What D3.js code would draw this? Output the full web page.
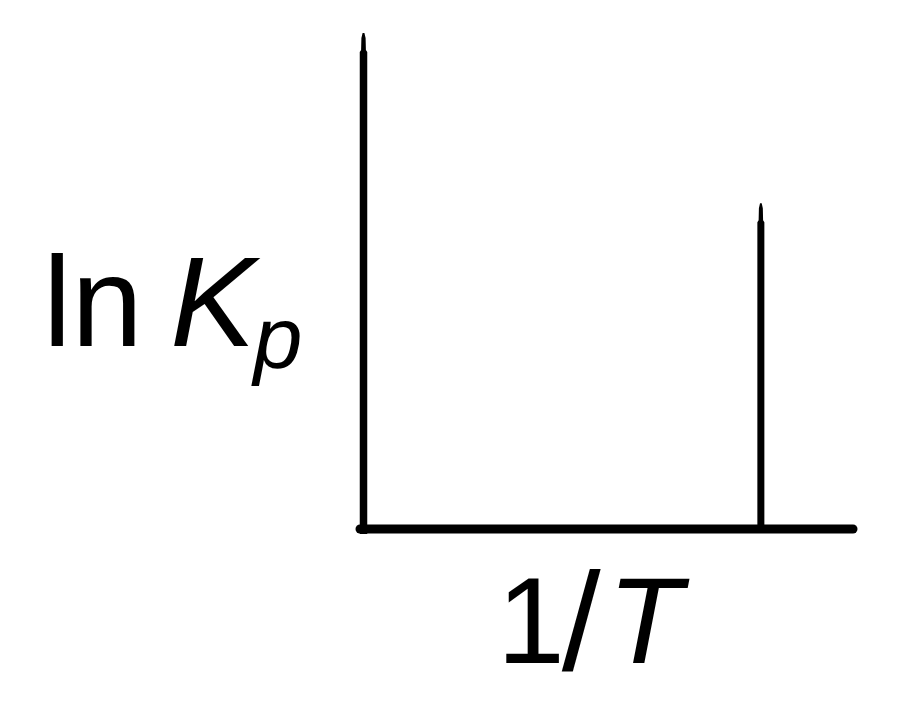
<!DOCTYPE html>
<html>
<head>
<meta charset="utf-8">
<script src="https://cdn.jsdelivr.net/npm/d3@7"></script>
<style>
  html, body { margin: 0; padding: 0; background: #fff; }
  svg { display: block; }
  text { font-family: "Liberation Sans", Arial, sans-serif; fill: #000; }
</style>
</head>
<body>
<svg id="chart" width="900" height="709"></svg>
<script>
// ---- data (in axis units, domain [0,1]) ----
const xDomain = [0, 1];
const yDomain = [0, 1];
const verticalLineX = [0.805];      // position of the vertical marker along 1/T
const verticalLineTop = [0.657];    // height reached by the marker (ln Kp)
const yLabelParts = ["ln ", "K", "p"];
const xLabelParts = ["1", "/", "T"];

const svg = d3.select("#chart");

const originX = 364, originY = 529;
const x = d3.scaleLinear().domain(xDomain).range([originX, 857]);
const y = d3.scaleLinear().domain(yDomain).range([originY, 33]);

// tapered vertical stroke
function vStroke(cx, yTop, yBottom, w) {
  const p = d3.path();
  p.moveTo(cx - w / 2, yBottom);
  p.lineTo(cx - w / 2, yTop + 19);
  p.lineTo(cx - w * 0.32, yTop + 17);
  p.lineTo(cx - w * 0.28, yTop + 5);
  p.lineTo(cx - w * 0.12, yTop);
  p.lineTo(cx + w * 0.12, yTop);
  p.lineTo(cx + w * 0.28, yTop + 5);
  p.lineTo(cx + w * 0.32, yTop + 17);
  p.lineTo(cx + w / 2, yTop + 19);
  p.lineTo(cx + w / 2, yBottom);
  p.closePath();
  return p.toString();
}

// y axis
svg.append("path")
  .attr("d", vStroke(x(0) - 0.5, y(1), y(0) + 5, 7.5))
  .attr("fill", "#000");

// x axis
svg.append("line")
  .attr("x1", x(0) - 4).attr("x2", x(1) - 4)
  .attr("y1", y(0)).attr("y2", y(0))
  .attr("stroke", "#000").attr("stroke-width", 9)
  .attr("stroke-linecap", "round");

// vertical marker line(s)
svg.selectAll("path.marker")
  .data(verticalLineX.map((v, i) => ({ x: v, top: verticalLineTop[i] })))
  .enter().append("path")
  .attr("class", "marker")
  .attr("d", d => vStroke(x(d.x), y(d.top), y(0), 7))
  .attr("fill", "#000");

// y label: ln K_p
const yl = svg.append("text").attr("x", 43).attr("y", 346).attr("font-size", 128);
yl.append("tspan").text(yLabelParts[0]);
yl.append("tspan").attr("dx", -8).attr("font-style", "italic").text(yLabelParts[1]);
yl.append("tspan").attr("dx", -2).attr("dy", 22).attr("font-size", 88)
  .attr("font-style", "italic").text(yLabelParts[2]);

// x label: 1/T
const xl = svg.append("text").attr("x", 497).attr("y", 663).attr("font-size", 122);
xl.append("tspan").text(xLabelParts[0]);
xl.append("tspan").attr("dx", -3).attr("dy", 7).attr("font-size", 140).text(xLabelParts[1]);
xl.append("tspan").attr("dx", 7).attr("dy", -7).attr("font-style", "italic").text(xLabelParts[2]);
</script>
</body>
</html>
